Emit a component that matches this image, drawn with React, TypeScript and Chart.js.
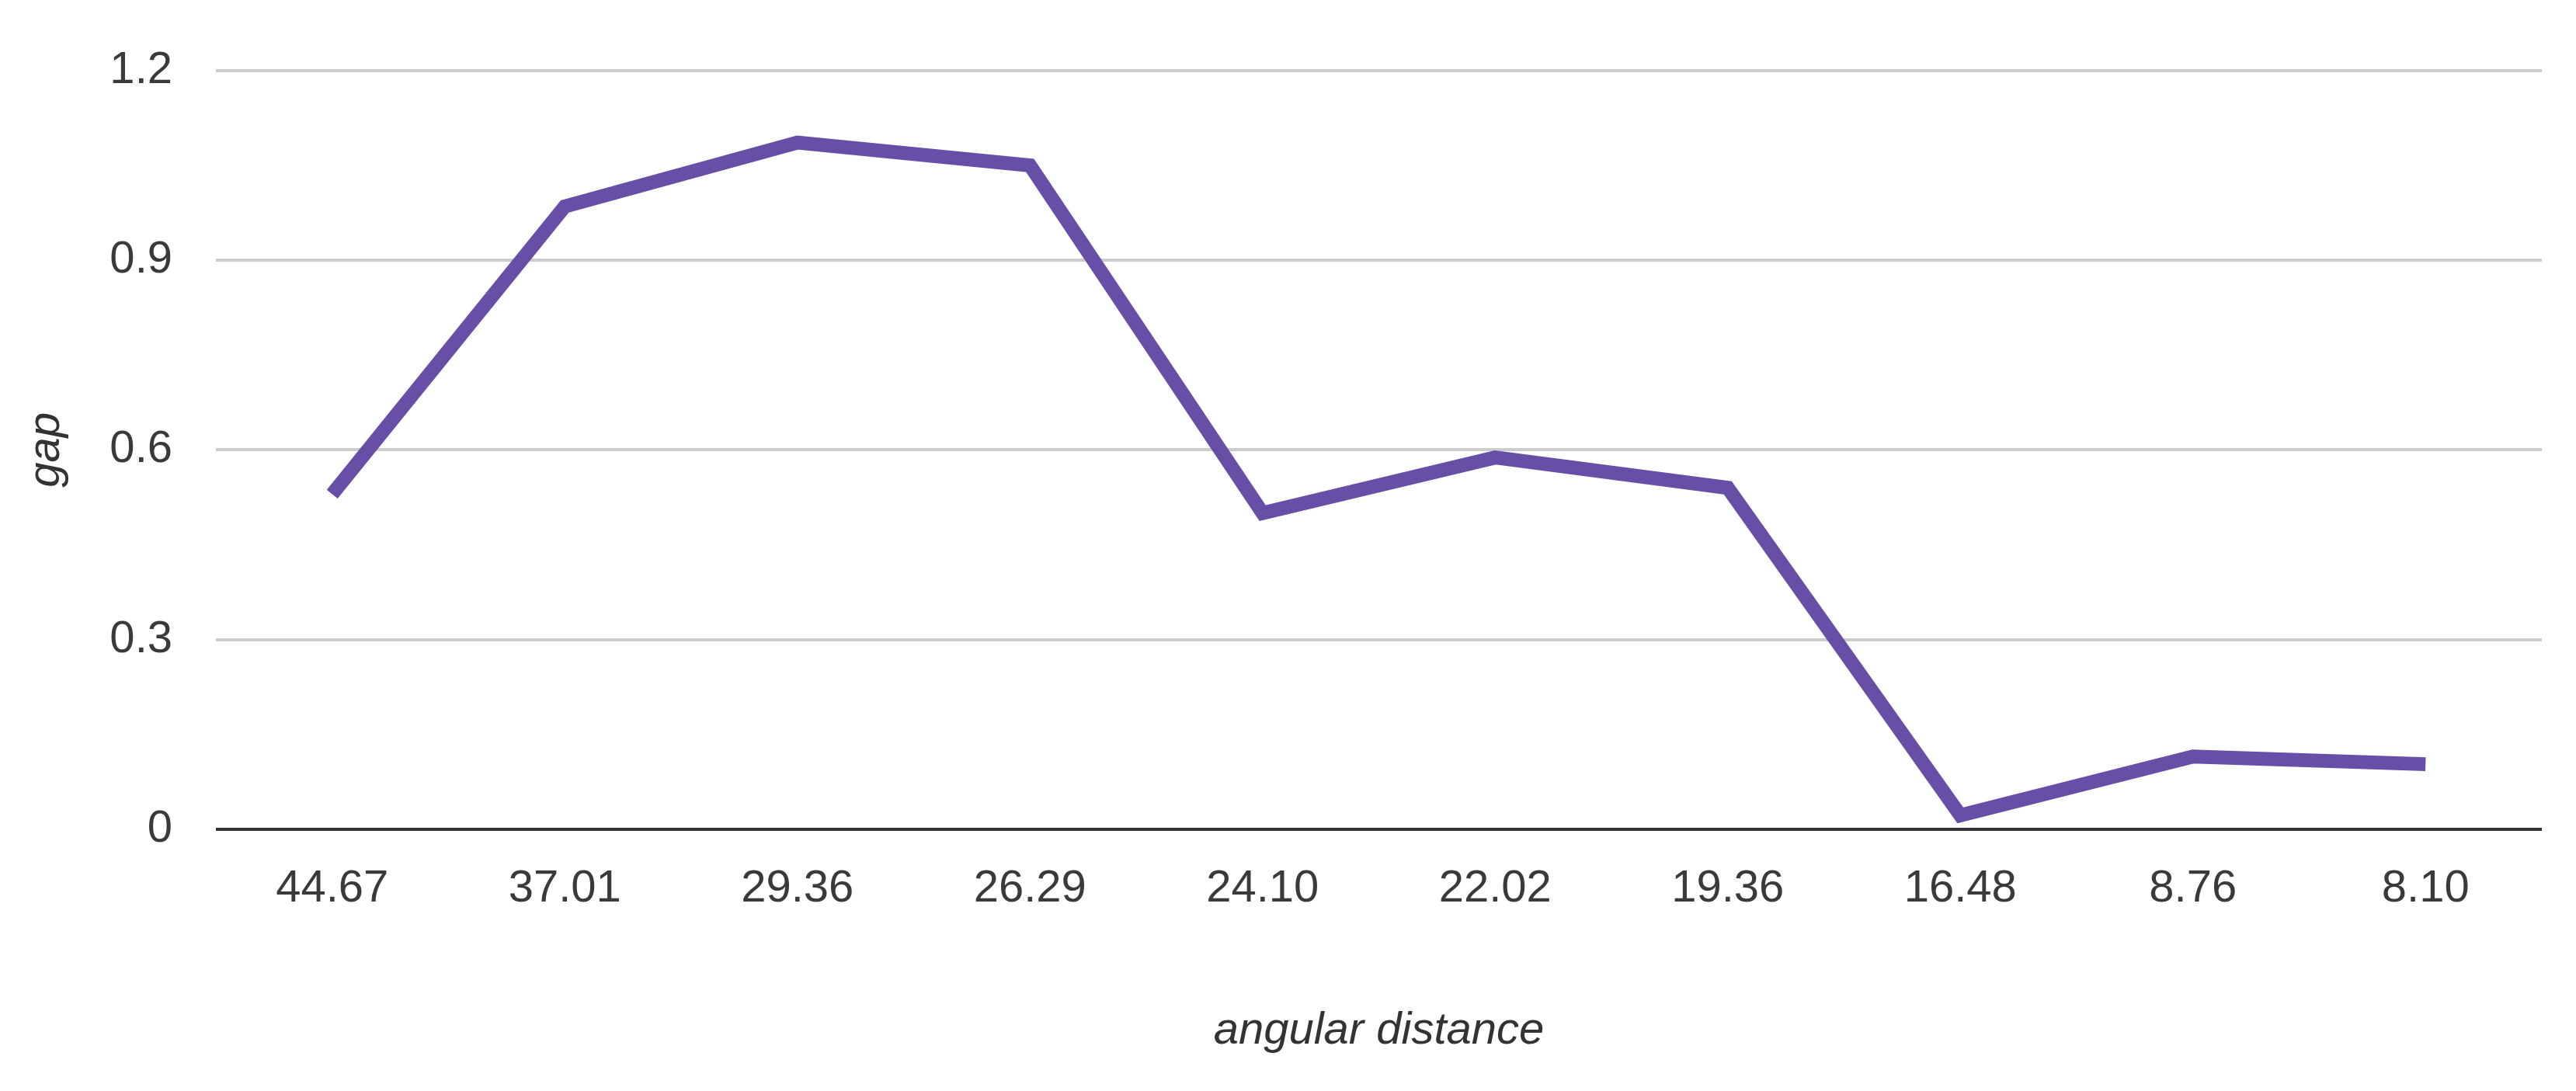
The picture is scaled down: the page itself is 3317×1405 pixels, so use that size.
import React, { useEffect, useRef } from "react";
import { Chart, registerables } from "chart.js";

Chart.register(...registerables);

const categories = ["44.67", "37.01", "29.36", "26.29", "24.10", "22.02", "19.36", "16.48", "8.76", "8.10"];
const gapValues = [0.53, 0.985, 1.086, 1.05, 0.5, 0.588, 0.54, 0.022, 0.115, 0.103];
const yTickLabels = ["0", "0.3", "0.6", "0.9", "1.2"];
const yTickValues = [0, 0.3, 0.6, 0.9, 1.2];
const xTitle = "angular distance";
const yTitle = "gap";

const W = 3317;
const H = 1405;
const FONT = "'Liberation Sans', Arial, sans-serif";

export default function App() {
  const ref = useRef<HTMLCanvasElement | null>(null);

  useEffect(() => {
    if (!ref.current) return;
    const chart = new Chart(ref.current, {
      type: "line",
      data: {
        labels: categories,
        datasets: [
          {
            label: yTitle,
            data: gapValues,
            borderColor: "#674ea7",
            backgroundColor: "#674ea7",
            borderWidth: 18,
            pointRadius: 0,
            pointHoverRadius: 0,
            tension: 0,
            fill: false,
            borderJoinStyle: "miter",
            borderCapStyle: "butt",
          },
        ],
      },
      options: {
        responsive: false,
        animation: false,
        devicePixelRatio: 1,
        layout: { padding: { top: 90, right: 44, bottom: 0, left: 0 } },
        plugins: {
          legend: { display: false },
          tooltip: { enabled: false },
        },
        scales: {
          x: {
            type: "category",
            offset: true,
            grid: { display: false, drawTicks: false },
            border: { display: false },
            ticks: {
              color: "#3a3a3a",
              font: { family: FONT, size: 58 },
              padding: 42,
              maxRotation: 0,
              autoSkip: false,
            },
            title: {
              display: true,
              text: xTitle,
              color: "#333333",
              font: { family: FONT, size: 58, style: "italic" },
              padding: { top: 0, bottom: 42 },
            },
            afterFit: (scale: any) => {
              scale.height = H - 1068;
            },
          },
          y: {
            min: 0,
            max: 1.2,
            afterBuildTicks: (scale: any) => {
              scale.ticks = yTickValues.map((v) => ({ value: v }));
            },
            grid: {
              drawTicks: false,
              lineWidth: 4,
              color: (ctx: any) => (ctx.tick && ctx.tick.value === 0 ? "#333333" : "#cccccc"),
            },
            border: { display: false },
            ticks: {
              color: "#3a3a3a",
              font: { family: FONT, size: 58 },
              padding: 56,
              callback: (_v: any, i: number) => yTickLabels[i],
            },
            title: {
              display: true,
              text: yTitle,
              color: "#333333",
              font: { family: FONT, size: 58, style: "italic" },
              padding: { top: 25, bottom: 0 },
            },
            afterFit: (scale: any) => {
              scale.width = 278;
            },
          },
        },
      },
    });
    return () => chart.destroy();
  }, []);

  return (
    <div style={{ position: "absolute", left: 0, top: 0, width: W, height: H, background: "#ffffff" }}>
      <canvas ref={ref} width={W} height={H} style={{ width: W, height: H, display: "block" }} />
    </div>
  );
}
